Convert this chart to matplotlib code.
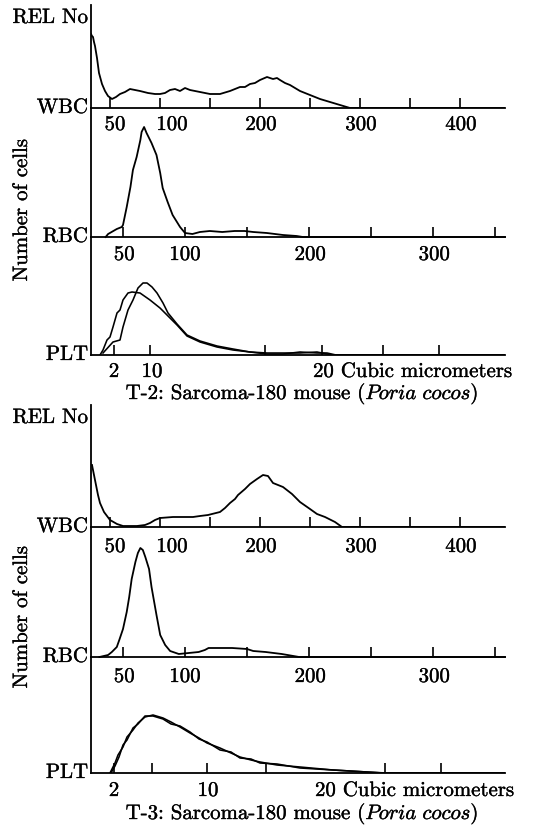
import matplotlib
matplotlib.use("Agg")
from matplotlib import pyplot as plt
from matplotlib import patheffects

# ---- data (heights in arbitrary "REL No" units) ----
# WBC, volume channel (cubic micrometers)
t2_wbc_v = [31, 32, 33, 34, 35, 37, 39, 42, 45, 48, 52, 56, 60, 65, 70, 75, 80, 88, 95, 100,
            105, 110, 115, 120, 125, 130, 140, 150, 160, 170, 175, 180, 185, 190, 195, 200,
            207, 210, 213, 217, 220, 225, 230, 240, 250, 255, 260, 270, 280, 290, 445]
t2_wbc_h = [74, 72, 71, 66, 62, 50, 35, 24, 17, 12, 9, 11, 14, 16, 19, 18, 17, 15, 14, 14,
            15, 18, 19, 17, 20, 18, 16, 14, 14, 17, 19, 21, 21, 24, 25, 28,
            31, 30, 29, 30, 28, 25, 23, 17, 13, 11, 9, 6, 3, 0, 0]

t3_wbc_v = [32, 34, 36, 38, 40, 44, 50, 57, 63, 77, 85, 90, 95, 100, 113, 125, 133, 140, 148,
            160, 165, 170, 175, 178, 185, 190, 197, 203, 208, 213, 218, 223, 232, 240, 250,
            257, 265, 275, 282, 445]
t3_wbc_h = [62, 52, 42, 32, 24, 15, 7, 3, 1, 1, 2, 4, 7, 9, 10, 10, 10, 11, 12,
            15, 19, 24, 28, 32, 38, 43, 48, 52, 51, 44, 42, 40, 33, 25, 18,
            13, 10, 5, 0, 0]

# RBC
t2_rbc_v = [36, 38, 45, 49, 50, 53, 56, 58, 61, 64, 65, 67, 69, 73, 77, 80, 82, 86, 90,
            96, 100, 106, 112, 120, 130, 140, 148, 155, 166, 179, 190, 195, 358]
t2_rbc_h = [0, 3, 8, 10, 12, 30, 50, 67, 80, 97, 105, 110, 104, 94, 82, 64, 49, 35, 22,
            10, 4, 3, 5, 6, 5, 6, 6, 5, 4, 2, 1, 0, 0]

t3_rbc_v = [31, 38, 41, 45, 47, 50, 53, 55, 57, 60, 62, 64, 66, 68, 71, 73, 77, 80, 84,
            88, 95, 103, 111, 116, 119, 130, 138, 150, 155, 165, 178, 192, 358]
t3_rbc_h = [0, 2, 5, 10, 17, 28, 45, 60, 78, 95, 104, 109, 107, 100, 88, 70, 42, 22, 12,
            6, 3, 4, 5, 7, 9, 9, 9, 8, 6, 5, 3, 0, 0]

# PLT, two overlaid runs per sample (channel units)
t2_plt_u1 = [9, 12, 16, 19, 22, 26, 29, 32, 37, 41, 49, 59, 69, 76, 86, 96, 109, 126,
             142, 159, 176, 192, 209, 226, 236, 242, 414]
t2_plt_h1 = [0, 5, 15, 18, 28, 42, 45, 55, 62, 63, 62, 55, 47, 40, 30, 19, 13, 8,
             5, 3, 2, 2, 2, 3, 1, 0, 0]
t2_plt_u2 = [12, 22, 29, 32, 37, 42, 47, 52, 56, 61, 66, 72, 77, 86, 96, 109, 126,
             142, 159, 176, 192, 209, 226, 236, 245, 414]
t2_plt_h2 = [2, 13, 15, 28, 45, 55, 67, 72, 72, 68, 62, 52, 42, 31, 20, 14, 9,
             6, 3, 1, 1, 3, 2, 2, 0, 0]

t3_plt_u1 = [19, 24, 27, 32, 36, 42, 47, 54, 62, 72, 80, 89, 99, 108, 116, 129, 140,
             149, 160, 169, 186, 209, 242, 276, 292, 414]
t3_plt_h1 = [0, 10, 18, 26, 36, 43, 50, 56, 58, 55, 51, 46, 40, 35, 30, 25, 20,
             16, 13, 11, 8, 6, 3, 1, 0, 0]
t3_plt_u2 = [20, 24, 28, 32, 36, 42, 47, 54, 62, 72, 80, 89, 99, 108, 116, 129, 140,
             149, 160, 169, 186, 209, 242, 276, 295, 414]
t3_plt_h2 = [0, 7, 16, 28, 33, 45, 49, 57, 57, 54, 49, 47, 41, 34, 31, 23, 21,
             15, 14, 10, 9, 5, 3, 1, 0, 0]

# ticks and labels
wbc_ticks = [50, 100, 150, 200, 250, 300, 350, 400]
wbc_labels = ["50", "100", "200", "300", "400"]
rbc_ticks = [50, 100, 150, 200, 250, 300, 350]
rbc_labels = ["50", "100", "200", "300"]
t2_plt_ticks = [23, 59, 174, 231, 292, 348]
t3_plt_ticks = [23, 61, 116, 175, 294, 350]
plt_labels = ["2", "10", "20 Cubic micrometers"]

# ---- layout (pixels of the 539x830 canvas) ----
W, H = 539, 830
X0, X1 = 91, 505
wbc_label_x = [55, 112, 201, 301, 401]
rbc_label_x = [51, 100, 201, 301]
t2_plt_label_x = [23, 61, 222]
t3_plt_label_x = [23, 117, 224]

plt.rcParams["font.family"] = "cmr10"
plt.rcParams["mathtext.fontset"] = "cm"
plt.rcParams["axes.unicode_minus"] = False
FS = 15
# scanned print looks a bit heavier than cmr10
INK = [patheffects.withStroke(linewidth=0.25, foreground="black")]
LW = 1.3

fig = plt.figure(figsize=(W / 100, H / 100), dpi=100)


def panel(top, bottom, xlim):
    ax = fig.add_axes([X0 / W, 1 - bottom / H, (X1 - X0) / W, (bottom - top) / H])
    ax.set_xlim(*xlim)
    ax.set_ylim(0, bottom - top)
    for s in ["top", "right"]:
        ax.spines[s].set_visible(False)
    for s in ["left", "bottom"]:
        ax.spines[s].set_linewidth(1.3)
    ax.set_yticks([])
    ax.tick_params(axis="x", direction="in", length=7, width=1.2, labelbottom=False)
    ax.patch.set_alpha(0)
    return ax


def labels(ax, xs, texts, dy):
    for x, t in zip(xs, texts):
        ha = "left" if "Cubic" in t else "center"
        ax.annotate(t, xy=(x, 0), xycoords=("data", "axes fraction"),
                    xytext=(0, -dy * 0.72), textcoords="offset points",
                    ha=ha, va="center", fontsize=FS, path_effects=INK)


def side(text, y):
    fig.text(88 / W, 1 - y / H, text, ha="right", va="center", fontsize=FS,
             path_effects=INK)


def draw(tops, wbc, rbc, plts, plt_ticks, plt_label_x, caption, ycells, dys):
    y_top, y_wbc, y_rbc, y_plt, y_cap = tops
    # WBC
    ax = panel(y_top, y_wbc, (31, 445))
    ax.plot(wbc[0], wbc[1], color="black", lw=LW)
    ax.set_xticks(wbc_ticks)
    labels(ax, wbc_label_x, wbc_labels, dys[0])
    # RBC
    ax = panel(y_wbc, y_rbc, (24.2, 358))
    ax.plot(rbc[0], rbc[1], color="black", lw=LW, clip_on=False)
    ax.set_xticks(rbc_ticks)
    labels(ax, rbc_label_x, rbc_labels, dys[1])
    # PLT
    ax = panel(y_rbc, y_plt, (0, 414))
    for u, h in plts:
        ax.plot(u, h, color="black", lw=1.15)
    ax.set_xticks(plt_ticks)
    labels(ax, plt_label_x, plt_labels, dys[2])

    side("REL No", y_top + 13)
    side("WBC", y_wbc)
    side("RBC", y_rbc)
    side("PLT", y_plt)
    fig.text(22 / W, 1 - ycells / H, "Number of cells", rotation=90,
             ha="center", va="center", fontsize=FS, path_effects=INK)
    fig.text(302 / W, 1 - y_cap / H, caption, ha="center", va="center",
             fontsize=FS, path_effects=INK)


draw((5, 108, 237, 355, 394),
     (t2_wbc_v, t2_wbc_h), (t2_rbc_v, t2_rbc_h),
     [(t2_plt_u1, t2_plt_h1), (t2_plt_u2, t2_plt_h2)],
     t2_plt_ticks, t2_plt_label_x,
     r"T-2: Sarcoma-180 mouse ($\mathit{Poria\ cocos}$)", 210, (17, 18, 17))

draw((405, 527, 657, 773, 814),
     (t3_wbc_v, t3_wbc_h), (t3_rbc_v, t3_rbc_h),
     [(t3_plt_u1, t3_plt_h1), (t3_plt_u2, t3_plt_h2)],
     t3_plt_ticks, t3_plt_label_x,
     r"T-3: Sarcoma-180 mouse ($\mathit{Poria\ cocos}$)", 617, (20, 20, 18))

fig.savefig("out.png", dpi=100)
